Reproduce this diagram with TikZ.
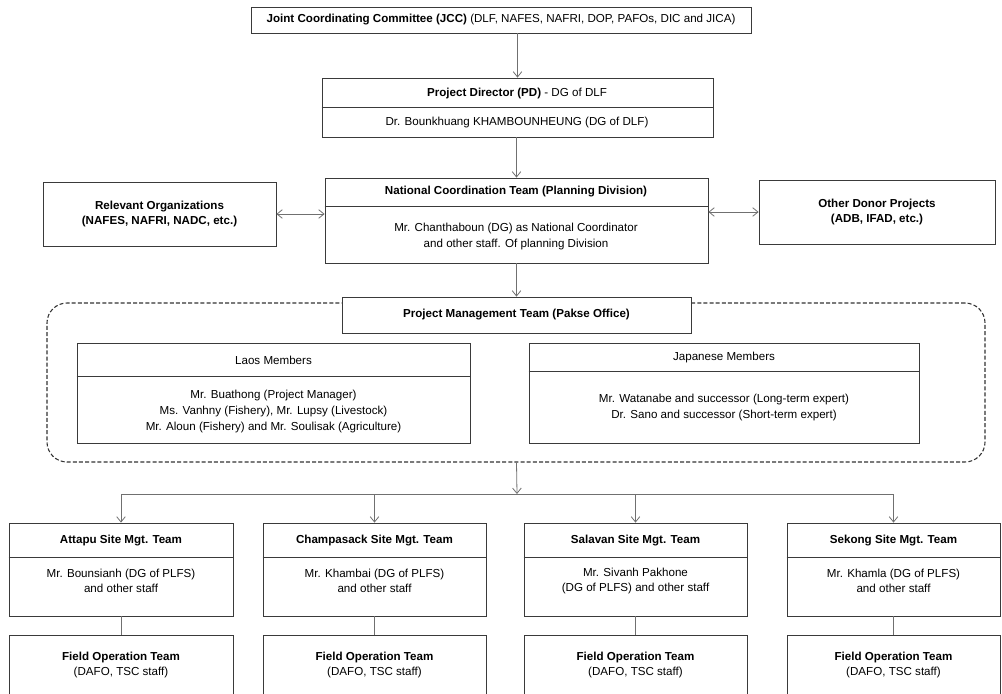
\documentclass[tikz,border=0pt]{standalone}
\usepackage{fontspec}
\setmainfont{Liberation Sans}
\usetikzlibrary{arrows.meta,fit}
\definecolor{boxc}{HTML}{3A3A3A}
\definecolor{linec}{HTML}{707070}
% rectangle given by its corners, in pixel units
\newcommand{\cbox}[5]{\node[box, fit={(#2,#3) (#4,#5)}] (#1) {};}
\newcommand{\divline}[2]{\draw[boxc, line width=0.6pt] (#1.west |- 0,#2) -- (#1.east |- 0,#2);}
\begin{document}
\begin{tikzpicture}[x=0.75pt, y=-0.75pt,
  font=\fontsize{8.7}{12}\selectfont,
  box/.style={draw=boxc, line width=0.6pt, fill=white, inner sep=0pt},
  conn/.style={draw=linec, line width=0.6pt},
  tip/.tip={Straight Barb[length=4pt,width=6.5pt]},
  arr/.style={conn, -tip},
  darr/.style={conn, tip-tip},
  ttl/.style={font=\fontsize{8.7}{12}\selectfont\bfseries, align=center, inner sep=0pt},
  txt/.style={align=center, inner sep=0pt},
  tight/.style={font=\fontsize{8.7}{11.2}\selectfont}]
\path[use as bounding box] (0,0) rectangle (1002,693);

% top of the hierarchy
\cbox{jcc}{251}{7}{751}{33}
\node[txt] (t-jcc) at (501,20) {\textbf{Joint Coordinating Committee (JCC)} (DLF, NAFES, NAFRI, DOP, PAFOs, DIC and JICA)};

\cbox{pd}{322}{78}{713}{137}
\divline{pd}{107}
\node[txt] (t-pd) at (517,93) {\textbf{Project Director (PD)} - DG of DLF};
\node[txt] (b-pd) at (517,122) {Dr. Bounkhuang KHAMBOUNHEUNG (DG of DLF)};

\cbox{nct}{325}{178}{708}{263}
\divline{nct}{206}
\node[ttl] (t-nct) at (516,192) {National Coordination Team (Planning Division)};
\node[txt] (b-nct) at (516,236) {Mr. Chanthaboun (DG) as National Coordinator\\and other staff. Of planning Division};

\cbox{rel}{43}{182}{276}{246}
\node[ttl, font=\fontsize{8.7}{11.2}\selectfont\bfseries] (t-rel) at (159.5,214) {Relevant Organizations\\(NAFES, NAFRI, NADC, etc.)};

\cbox{don}{759}{180}{995}{244}
\node[ttl, font=\fontsize{8.7}{11.2}\selectfont\bfseries] (t-don) at (877,212) {Other Donor Projects\\(ADB, IFAD, etc.)};

% project management team
\node[box, draw=black!80, fill=none, line width=0.8pt, dash pattern=on 3pt off 1.6pt, rounded corners=15pt, fit={(47,303) (985,462)}] (pmta) {};
\cbox{pmt}{342}{297}{691}{333}
\node[ttl] (t-pmt) at (516.5,315) {Project Management Team (Pakse Office)};

\cbox{lao}{77}{343}{470}{443}
\divline{lao}{376}
\node[txt] (t-lao) at (273.5,360) {Laos Members};
\node[txt] (b-lao) at (273.5,411) {Mr. Buathong (Project Manager)\\Ms. Vanhny (Fishery), Mr. Lupsy (Livestock)\\Mr. Aloun (Fishery) and Mr. Soulisak (Agriculture)};

\cbox{jpn}{529}{343}{919}{443}
\divline{jpn}{371}
\node[txt] (t-jpn) at (724,357) {Japanese Members};
\node[txt] (b-jpn) at (724,407) {Mr. Watanabe and successor (Long-term expert)\\Dr. Sano and successor (Short-term expert)};

% site management teams
\cbox{att}{9}{523}{233}{616}
\cbox{cha}{263}{523}{486}{616}
\cbox{sal}{524}{523}{747}{616}
\cbox{sek}{787}{523}{1000}{616}
\foreach \s in {att,cha,sal,sek} {\divline{\s}{557}}
\node[ttl] (t-att) at (att.center |- 0,541) {Attapu Site Mgt. Team};
\node[ttl] (t-cha) at (cha.center |- 0,541) {Champasack Site Mgt. Team};
\node[ttl] (t-sal) at (sal.center |- 0,541) {Salavan Site Mgt. Team};
\node[ttl] (t-sek) at (sek.center |- 0,541) {Sekong Site Mgt. Team};
\node[txt, tight] (b-att) at (att.center |- 0,581) {Mr. Bounsianh (DG of PLFS)\\and other staff};
\node[txt, tight] (b-cha) at (cha.center |- 0,581) {Mr. Khambai (DG of PLFS)\\and other staff};
\node[txt, tight] (b-sal) at (sal.center |- 0,581) {Mr. Sivanh Pakhone\\(DG of PLFS) and other staff};
\node[txt, tight] (b-sek) at (sek.center |- 0,581) {Mr. Khamla (DG of PLFS)\\and other staff};

% field operation teams, running off the lower edge
\begin{scope}
\clip (0,0) rectangle (1002,693);
\cbox{fatt}{9}{635}{233}{710}
\cbox{fcha}{263}{635}{486}{710}
\cbox{fsal}{524}{635}{747}{710}
\cbox{fsek}{787}{635}{1000}{710}
\end{scope}
\foreach \s in {att,cha,sal,sek} {
  \node[txt, tight] (t-f\s) at (\s.center |- 0,665) {\textbf{Field Operation Team}\\(DAFO, TSC staff)};
  \draw[conn] (\s.south) -- (\s.south |- 0,635);
}

% connectors
\draw[arr] (pd.north |- jcc.south) -- (pd.north);
\draw[arr] (nct.north |- pd.south) -- (nct.north);
\draw[arr] (pmt.north |- nct.south) -- (pmt.north);
\draw[darr] (rel.east) -- (rel.east -| nct.west);
\draw[darr] (nct.east |- don.west) -- (don.west);
\coordinate (split) at (pmta.south -| pmt.south);
\coordinate (bus) at (517,494);
\draw[arr] (split) -- (bus);
\draw[conn] (att.north |- bus) -- (sek.north |- bus);
\foreach \s in {att,cha,sal,sek} {\draw[arr] (\s.north |- bus) -- (\s.north);}
\end{tikzpicture}
\end{document}
